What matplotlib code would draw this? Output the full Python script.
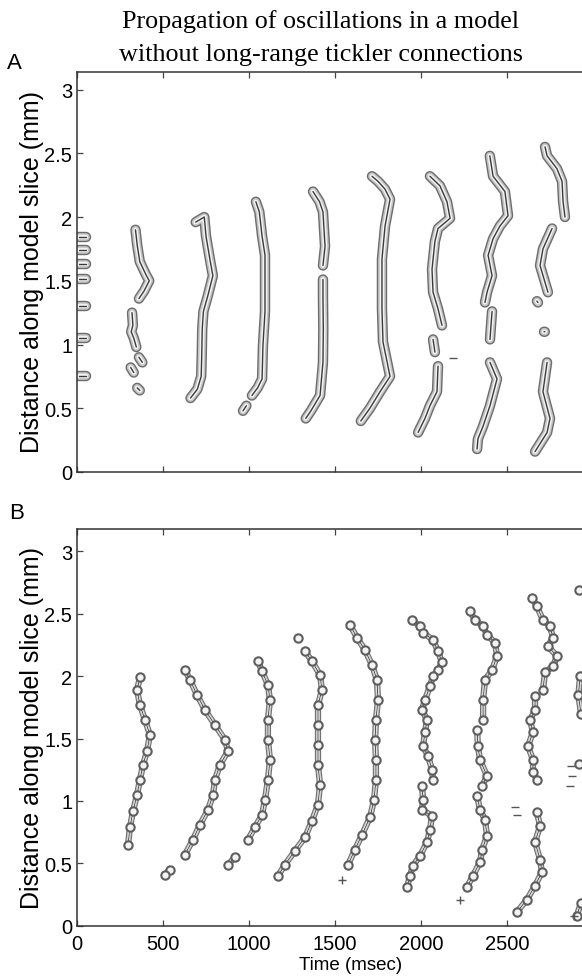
import numpy as np
import matplotlib
matplotlib.use("Agg")
import matplotlib.pyplot as plt

nan = np.nan

# ---- Panel A: wave fronts (time in msec, distance in mm), nan splits segments
a0_t = [12, 50, nan, 12, 50, nan, 12, 50, nan, 12, 50, nan, 12, 50, nan, 12, 50, nan, 12, 50]
a0_d = [1.84, 1.84, nan, 1.74, 1.74, nan, 1.63, 1.63, nan, 1.51, 1.51, nan, 1.30, 1.30, nan, 1.05, 1.05, nan, 0.75, 0.75]

a1_t = [340, 350, 365, 400, 420, 390, 360, nan, 320, 325, 315, 330, 345, nan, 360, 380, nan, 312, 330, nan, 350, 365]
a1_d = [1.90, 1.78, 1.65, 1.55, 1.50, 1.42, 1.36, nan, 1.25, 1.15, 1.10, 1.05, 0.98, nan, 0.90, 0.86, nan, 0.82, 0.78, nan, 0.66, 0.64]

a2_t = [690, 740, 750, 775, 790, 760, 735, 728, 725, 722, 700, 660]
a2_d = [1.96, 2.00, 1.85, 1.65, 1.54, 1.38, 1.26, 1.12, 0.90, 0.75, 0.65, 0.58]

a3_t = [1040, 1060, 1076, 1093, 1093, 1093, 1081, 1076, 1050, 1017, nan, 965, 985]
a3_d = [2.12, 2.04, 1.85, 1.70, 1.51, 1.26, 0.99, 0.73, 0.66, 0.60, nan, 0.48, 0.52]

a4_t = [1372, 1410, 1430, 1442, 1430, nan, 1430, 1430, 1432, 1430, 1413, 1360, 1330]
a4_d = [2.20, 2.12, 2.04, 1.77, 1.62, nan, 1.51, 1.38, 1.12, 0.86, 0.60, 0.48, 0.42]

a5_t = [1715, 1750, 1790, 1820, 1791, 1773, 1773, 1779, 1820, 1762, 1703, 1650]
a5_d = [2.32, 2.28, 2.22, 2.14, 1.93, 1.67, 1.28, 1.02, 0.75, 0.63, 0.50, 0.40]

a6_t = [2052, 2110, 2151, 2169, 2099, 2081, 2064, 2070, 2099, 2122, nan, 2070, 2081, nan, 2099, 2093, 2052, 2023, 1983]
a6_d = [2.32, 2.245, 2.12, 1.99, 1.91, 1.81, 1.59, 1.41, 1.28, 1.15, nan, 1.04, 0.94, nan, 0.83, 0.63, 0.52, 0.42, 0.31]

a7_t = [2400, 2419, 2488, 2506, 2459, 2419, 2390, 2413, 2384, 2372, nan, 2413, 2401, nan, 2401, 2442, 2401, 2361, 2331, 2326]
a7_d = [2.48, 2.32, 2.20, 2.01, 1.93, 1.83, 1.70, 1.54, 1.41, 1.33, nan, 1.26, 1.04, nan, 0.86, 0.73, 0.52, 0.36, 0.26, 0.18]

a8_t = [2721, 2733, 2790, 2820, 2826, 2837, nan, 2762, 2709, 2692, 2738, nan, 2674, 2680, nan, 2715, 2720, nan, 2733, 2709, 2750, 2733, 2663]
a8_d = [2.55, 2.48, 2.38, 2.28, 2.12, 2.00, nan, 1.91, 1.75, 1.62, 1.41, nan, 1.34, 1.33, nan, 1.10, 1.10, nan, 0.86, 0.63, 0.42, 0.31, 0.16]

# ---- Panel B: chains of small spike clusters
b1_t = [366, 349, 366, 395, 424, 407, 384, 366, 349, 326, 308, 297]
b1_d = [1.99, 1.89, 1.77, 1.65, 1.53, 1.40, 1.29, 1.17, 1.05, 0.92, 0.79, 0.65]

b2_t = [628, 657, 698, 744, 802, 860, 878, 831, 802, 791, 762, 715, 674, 628, nan, 541, 512]
b2_d = [2.05, 1.97, 1.85, 1.73, 1.61, 1.49, 1.40, 1.29, 1.17, 1.05, 0.93, 0.81, 0.69, 0.57, nan, 0.45, 0.41]

b3_t = [1052, 1076, 1110, 1122, 1110, 1110, 1122, 1110, 1093, 1076, 1035, 994, nan, 919, 878]
b3_d = [2.12, 2.04, 1.93, 1.81, 1.65, 1.49, 1.33, 1.17, 1.01, 0.89, 0.79, 0.69, nan, 0.55, 0.49]

b4_t = [1285, nan, 1326, 1366, 1413, 1424, 1401, 1401, 1401, 1401, 1413, 1401, 1366, 1326, 1267, 1209, 1169]
b4_d = [2.31, nan, 2.20, 2.12, 2.01, 1.89, 1.77, 1.61, 1.45, 1.29, 1.13, 0.97, 0.84, 0.71, 0.60, 0.49, 0.40]

b5_t = [1587, 1628, 1674, 1715, 1744, 1750, 1738, 1733, 1738, 1738, 1727, 1704, 1657, 1616, 1576]
b5_d = [2.41, 2.31, 2.21, 2.09, 1.97, 1.81, 1.65, 1.49, 1.33, 1.17, 1.01, 0.87, 0.73, 0.61, 0.49]

b6_t = [1948, 1994, 2012, 2070, 2099, 2122, 2099, 2070, 2052, 2023, 2006, 2035, 2023, 2012, 2041, 2064, 2070, nan,
        2006, 2012, 2006, 2064, 2052, 2035, 1994, 1953, 1936, 1919]
b6_d = [2.45, 2.40, 2.35, 2.29, 2.20, 2.11, 2.05, 2.00, 1.92, 1.81, 1.73, 1.65, 1.55, 1.44, 1.36, 1.25, 1.17, nan,
        1.12, 1.01, 0.93, 0.88, 0.77, 0.67, 0.56, 0.48, 0.40, 0.31]

b7_t = [2285, 2314, 2361, 2384, 2430, 2442, 2413, 2372, 2361, 2361, nan, 2326, 2331, 2343, 2384, 2355, nan,
        2326, 2343, 2372, 2384, 2355, 2343, 2302, 2267]
b7_d = [2.52, 2.45, 2.40, 2.33, 2.27, 2.16, 2.05, 1.97, 1.81, 1.65, nan, 1.57, 1.44, 1.33, 1.20, 1.12, nan,
        1.04, 0.93, 0.85, 0.72, 0.61, 0.51, 0.40, 0.31]

b8_t = [2645, 2674, 2709, 2750, 2767, 2738, 2791, 2767, 2721, 2709, nan, 2663, 2663, 2634, 2651, 2622, 2651, 2651, 2674, nan,
        2674, 2692, 2663, 2692, 2703, 2663, 2616, 2558]
b8_d = [2.63, 2.56, 2.45, 2.40, 2.31, 2.24, 2.16, 2.08, 2.03, 1.89, nan, 1.84, 1.73, 1.65, 1.55, 1.44, 1.33, 1.23, 1.17, nan,
        0.91, 0.80, 0.67, 0.53, 0.43, 0.32, 0.21, 0.11]

b9_t = [2919, nan, 2925, 2915, 2930, nan, 2920, nan, 2905, 2930]
b9_d = [2.69, nan, 2.00, 1.85, 1.70, nan, 1.30, nan, 0.08, 0.18]

# isolated single spikes (+) and dashes
b_plus_t = [1541, 2227, 2890]
b_plus_d = [0.37, 0.21, 0.08]
b_dash_t = [2545, 2560, 2870, 2875, 2865]
b_dash_d = [0.95, 0.89, 1.28, 1.20, 1.12]
a_dash_t = [2186]
a_dash_d = [0.895]

xticks = [0, 500, 1000, 1500, 2000, 2500]
yticks = [0, 0.5, 1, 1.5, 2, 2.5, 3]
ytick_labels = ["0", "0.5", "1", "1.5", "2", "2.5", "3"]

W, H = 582, 978
fig = plt.figure(figsize=(W / 100, H / 100), dpi=100)
plt.rcParams['font.family'] = ['Liberation Sans', 'DejaVu Sans']


def contour_wave(ax, t, d, widths):
    cols = ['#6c6c6c', '#c4c4c4', '#f3f3f3', '#3a3a3a']
    for lw, c in zip(widths, cols):
        ax.plot(t, d, color=c, lw=lw, solid_capstyle='round', solid_joinstyle='round')


def style_axes(ax, top):
    ax.set_xlim(0, 2936)
    ax.set_ylim(0, top)
    ax.set_xticks(xticks)
    ax.set_yticks(yticks)
    ax.set_yticklabels(ytick_labels)
    ax.spines['right'].set_visible(False)
    for s in ['left', 'top', 'bottom']:
        ax.spines[s].set_linewidth(1.1)
        ax.spines[s].set_color('#333333')
    ax.tick_params(direction='in', length=4, width=0.9, color='#444444', top=True,
                   labelsize=14.5, pad=3.5)
    ax.tick_params(axis='x', pad=6)


# panel A
axA = fig.add_axes([77 / W, (H - 473) / H, (W - 77) / W, (473 - 72.7) / H])
for t, d in [(a0_t, a0_d), (a1_t, a1_d), (a2_t, a2_d), (a3_t, a3_d), (a4_t, a4_d),
             (a5_t, a5_d), (a6_t, a6_d), (a7_t, a7_d), (a8_t, a8_d)]:
    contour_wave(axA, t, d, (7.5, 5.5, 3.2, 1.0))
axA.plot(a_dash_t, a_dash_d, ls='none', marker='_', ms=6, color='#555555')
style_axes(axA, 3.14)
axA.set_xticklabels([])

# panel B
axB = fig.add_axes([77 / W, (H - 926.7) / H, (W - 77) / W, (926.7 - 530) / H])
for t, d in [(b1_t, b1_d), (b2_t, b2_d), (b3_t, b3_d), (b4_t, b4_d), (b5_t, b5_d),
             (b6_t, b6_d), (b7_t, b7_d), (b8_t, b8_d), (b9_t, b9_d)]:
    contour_wave(axB, t, d, (4.5, 3.0, 1.6, 0.6))
    axB.plot(t, d, ls='none', marker='o', ms=6, mfc='#f4f4f4', mec='#5e5e5e', mew=1.5)
axB.plot(b_plus_t, b_plus_d, ls='none', marker='+', ms=6, mew=1.0, color='#555555')
axB.plot(b_dash_t, b_dash_d, ls='none', marker='_', ms=6, mew=1.0, color='#555555')
style_axes(axB, 3.18)
axB.set_xticklabels([str(v) for v in xticks])

# texts
fig.text(321 / W, 1 - 22 / H, "Propagation of oscillations in a model", family='Liberation Serif',
         fontsize=18.8, ha='center', va='center')
fig.text(321 / W, 1 - 55 / H, "without long-range tickler connections", family='Liberation Serif',
         fontsize=18.8, ha='center', va='center')
fig.text(7 / W, 1 - 69 / H, "A", fontsize=16, ha='left', va='baseline')
fig.text(9 / W, 1 - 519 / H, "B", fontsize=16, ha='left', va='baseline')
fig.text(32 / W, 1 - 272 / H, "Distance along model slice (mm)", fontsize=18, rotation=90,
         ha='center', va='center')
fig.text(32 / W, 1 - 728 / H, "Distance along model slice (mm)", fontsize=18, rotation=90,
         ha='center', va='center')
fig.text(351 / W, 1 - 966 / H, "Time (msec)", fontsize=13.5, ha='center', va='center')

fig.savefig("out.png", dpi=100)
